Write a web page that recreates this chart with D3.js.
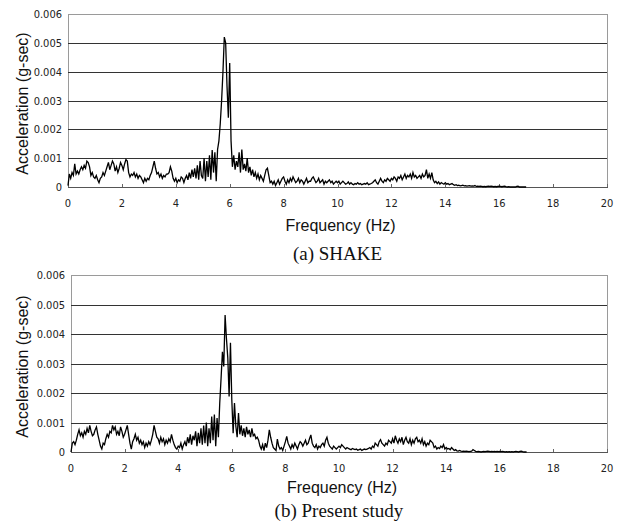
<!DOCTYPE html>
<html lang="en">
<head>
    <meta charset="UTF-8">
    <title>Fourier spectrum - SHAKE vs Present study</title>
    <script src="https://d3js.org/d3.v7.min.js"></script>
    <style>
        body { margin: 0; background: #fff; }
        #chart { display: block; }
        .tick-label { font-family: "Liberation Sans Narrow", "DejaVu Sans Condensed", sans-serif; font-size: 11px; fill: #222; }
        .axis-title { font-family: "Liberation Sans", Arial, sans-serif; font-size: 16px; fill: #111; }
        .caption { font-family: "Liberation Serif", "Times New Roman", serif; font-size: 19px; fill: #111; }
    </style>
</head>
<body>
    <svg id="chart" width="626" height="529"></svg>

    <script>
        // frequency grid of the spectra (Hz)
        const freqStep = 0.05;
        const xTicks = [0, 2, 4, 6, 8, 10, 12, 14, 16, 18, 20];
        const yTicks = [0, 0.001, 0.002, 0.003, 0.004, 0.005, 0.006];

        // amplitudes in units of 0.001 g-sec, one value per 0.05 Hz, 0 .. 17 Hz
        const ampShake = [
            0.05, 0.45, 0.3, 0.5, 0.4, 0.8, 0.45, 0.55, 0.45, 0.6, 0.7, 0.6, 0.75, 0.65, 0.9, 0.85, 0.7, 0.4, 0.5, 0.35,
            0.3, 0.4, 0.25, 0.15, 0.3, 0.35, 0.5, 0.4, 0.55, 0.7, 0.85, 0.6, 0.75, 0.9, 0.8, 0.55, 0.7, 0.5, 0.65, 0.85,
            0.75, 0.6, 0.8, 0.95, 0.9, 0.5, 0.35, 0.45, 0.4, 0.5, 0.35, 0.45, 0.3, 0.4, 0.35, 0.25, 0.15, 0.3, 0.2, 0.3,
            0.25, 0.4, 0.5, 0.7, 0.9, 0.65, 0.45, 0.5, 0.35, 0.45, 0.3, 0.4, 0.35, 0.45, 0.45, 0.5, 0.7, 0.55, 0.3, 0.2,
            0.3, 0.15, 0.25, 0.2, 0.35, 0.3, 0.15, 0.3, 0.4, 0.25, 0.5, 0.3, 0.6, 0.35, 0.65, 0.3, 0.75, 0.25, 0.9, 0.4,
            0.3, 1.0, 0.2, 0.9, 0.35, 1.1, 0.25, 1.28, 0.5, 1.2, 0.2, 1.3, 1.6, 2.2, 3.0, 4.0, 5.2, 5.0, 3.5, 2.4,
            4.3, 1.6, 0.7, 1.1, 0.6, 0.9, 0.7, 1.2, 0.5, 1.3, 0.6, 0.8, 0.55, 1.0, 0.5, 0.7, 0.4, 0.6, 0.35, 0.5,
            0.3, 0.45, 0.25, 0.4, 0.3, 0.2, 0.4, 0.6, 0.65, 0.4, 0.15, 0.2, 0.1, 0.2, 0.05, 0.15, 0.25, 0.1, 0.2, 0.3,
            0.35, 0.2, 0.1, 0.25, 0.15, 0.3, 0.2, 0.35, 0.25, 0.15, 0.2, 0.3, 0.15, 0.25, 0.2, 0.1, 0.2, 0.3, 0.15, 0.2,
            0.2, 0.3, 0.35, 0.25, 0.15, 0.2, 0.3, 0.15, 0.2, 0.25, 0.1, 0.2, 0.15, 0.2, 0.25, 0.15, 0.2, 0.1, 0.15, 0.2,
            0.15, 0.2, 0.1, 0.15, 0.2, 0.15, 0.1, 0.12, 0.18, 0.1, 0.15, 0.1, 0.08, 0.12, 0.1, 0.15, 0.1, 0.12, 0.08, 0.1,
            0.12, 0.1, 0.15, 0.08, 0.1, 0.12, 0.15, 0.2, 0.25, 0.15, 0.1, 0.2, 0.3, 0.2, 0.15, 0.25, 0.2, 0.3, 0.25, 0.2,
            0.3, 0.25, 0.35, 0.3, 0.2, 0.35, 0.3, 0.4, 0.25, 0.35, 0.45, 0.3, 0.4, 0.35, 0.45, 0.3, 0.5, 0.35, 0.4, 0.3,
            0.35, 0.4, 0.3, 0.45, 0.35, 0.4, 0.6, 0.3, 0.45, 0.3, 0.5, 0.25, 0.15, 0.2, 0.12, 0.18, 0.1, 0.15, 0.12, 0.1,
            0.15, 0.1, 0.12, 0.08, 0.1, 0.12, 0.08, 0.06, 0.08, 0.05, 0.06, 0.04, 0.05, 0.06, 0.04, 0.05, 0.03, 0.04, 0.05, 0.03,
            0.04, 0.03, 0.05, 0.02, 0.03, 0.02, 0.03, 0.02, 0.01, 0.02, 0.01, 0.02, 0.03, 0.02, 0.03, 0.02, 0.01, 0.02, 0.01, 0.02,
            0.03, 0.02, 0.01, 0.02, 0.03, 0.01, 0, 0.01, 0, 0, 0, 0, 0, 0.02, 0.03, 0, 0, 0, 0, 0,
            0
        ];

        const ampPresent = [
            0, 0.3, 0.35, 0.25, 0.4, 0.6, 0.75, 0.55, 0.65, 0.5, 0.7, 0.6, 0.8, 0.65, 0.9, 0.7, 0.55, 0.6, 0.75, 0.85,
            0.6, 0.4, 0.2, 0.1, 0.3, 0.25, 0.45, 0.6, 0.5, 0.7, 0.65, 0.9, 0.75, 0.85, 0.6, 0.7, 0.55, 0.85, 0.7, 0.5,
            0.6, 0.75, 0.9, 0.6, 0.3, 0.1, 0.35, 0.45, 0.6, 0.4, 0.5, 0.3, 0.4, 0.25, 0.35, 0.15, 0.3, 0.2, 0.35, 0.25,
            0.4, 0.6, 0.9, 0.7, 0.5, 0.45, 0.3, 0.5, 0.35, 0.45, 0.25, 0.4, 0.3, 0.45, 0.35, 0.6, 0.4, 0.25, 0.15, 0.1,
            0.2, 0.15, 0.3, 0.1, 0.25, 0.35, 0.2, 0.5, 0.3, 0.6, 0.25, 0.55, 0.4, 0.7, 0.2, 0.65, 0.3, 0.8, 0.25, 0.9,
            0.3, 1.0, 0.2, 0.8, 0.3, 1.2, 0.4, 1.27, 0.2, 1.15, 0.5, 1.66, 2.5, 3.4, 2.9, 4.64, 3.85, 3.2, 1.88, 3.7,
            1.77, 0.64, 1.66, 0.88, 0.5, 1.32, 0.6, 0.9, 0.55, 0.8, 0.5, 0.85, 0.6, 0.75, 0.5, 0.8, 0.55, 0.6, 0.45, 0.5,
            0.4, 0.2, 0.1, 0.25, 0.05, 0.3, 0.15, 0.4, 0.75, 0.5, 0.3, 0.15, 0.1, 0.05, 0.44, 0.2, 0.1, 0.15, 0.05, 0.2,
            0.35, 0.53, 0.3, 0.2, 0.1, 0.25, 0.15, 0.3, 0.2, 0.1, 0.25, 0.35, 0.3, 0.2, 0.3, 0.4, 0.25, 0.3, 0.45, 0.58,
            0.3, 0.2, 0.15, 0.25, 0.1, 0.2, 0.15, 0.25, 0.3, 0.2, 0.4, 0.5, 0.3, 0.2, 0.15, 0.1, 0.2, 0.15, 0.1, 0.15,
            0.2, 0.15, 0.25, 0.2, 0.15, 0.1, 0.15, 0.12, 0.1, 0.08, 0.12, 0.1, 0.08, 0.1, 0.06, 0.08, 0.1, 0.05, 0.08, 0.1,
            0.08, 0.1, 0.12, 0.15, 0.1, 0.2, 0.15, 0.3, 0.25, 0.2, 0.35, 0.42, 0.3, 0.25, 0.2, 0.3, 0.25, 0.4, 0.35, 0.3,
            0.45, 0.3, 0.55, 0.4, 0.3, 0.45, 0.35, 0.5, 0.25, 0.4, 0.5, 0.35, 0.3, 0.45, 0.25, 0.4, 0.3, 0.45, 0.5, 0.35,
            0.4, 0.3, 0.45, 0.25, 0.35, 0.2, 0.3, 0.25, 0.4, 0.35, 0.3, 0.15, 0.2, 0.1, 0.15, 0.12, 0.2, 0.15, 0.25, 0.1,
            0.15, 0.1, 0.12, 0.08, 0.15, 0.1, 0.05, 0.08, 0.04, 0.03, 0.05, 0.03, 0.02, 0.03, 0.02, 0.03, 0.02, 0.01, 0.02, 0.03,
            0.08, 0.05, 0.02, 0.01, 0.02, 0.01, 0, 0.01, 0.02, 0.01, 0.02, 0.03, 0.02, 0.01, 0.02, 0.01, 0.02, 0.01, 0.02, 0.01,
            0.02, 0.01, 0.02, 0.01, 0, 0.01, 0, 0.01, 0, 0.01, 0, 0.01, 0.02, 0.01, 0, 0.02, 0.03, 0.01, 0, 0,
            0
        ];

        const svg = d3.select("#chart");

        // one panel = frame, grid, axes, spectrum line, titles
        function drawPanel(amps, box, caption) {
            const x = d3.scaleLinear().domain([0, 20]).range([box.left, box.right]);
            const y = d3.scaleLinear().domain([0, 0.006]).range([box.bottom, box.top]);
            const g = svg.append("g");

            // plot frame
            g.append("rect")
                .attr("x", box.left + 0.5)
                .attr("y", box.top + 0.5)
                .attr("width", box.right - box.left)
                .attr("height", box.bottom - box.top)
                .attr("fill", "none")
                .attr("stroke", "#9a9a9a")
                .attr("stroke-width", 1);

            // horizontal grid
            g.selectAll("line.grid")
                .data(yTicks.filter(t => t > 0 && t < 0.006))
                .enter().append("line")
                .attr("class", "grid")
                .attr("x1", box.left)
                .attr("x2", box.right)
                .attr("y1", d => Math.round(y(d)) + 0.5)
                .attr("y2", d => Math.round(y(d)) + 0.5)
                .attr("stroke", "#333")
                .attr("stroke-width", 1);

            // bottom axis line + small ticks
            g.append("line")
                .attr("x1", box.left).attr("x2", box.right + 1)
                .attr("y1", box.bottom + 0.5).attr("y2", box.bottom + 0.5)
                .attr("stroke", "#555");
            g.selectAll("line.xtick")
                .data(xTicks)
                .enter().append("line")
                .attr("class", "xtick")
                .attr("x1", d => Math.round(x(d)) + 0.5)
                .attr("x2", d => Math.round(x(d)) + 0.5)
                .attr("y1", box.bottom)
                .attr("y2", box.bottom - 3)
                .attr("stroke", "#666");

            // tick labels
            g.selectAll("text.xl")
                .data(xTicks)
                .enter().append("text")
                .attr("class", "tick-label")
                .attr("x", d => x(d))
                .attr("y", box.bottom + 20)
                .attr("text-anchor", "middle")
                .text(d => d);

            g.selectAll("text.yl")
                .data(yTicks)
                .enter().append("text")
                .attr("class", "tick-label")
                .attr("x", box.left - 6)
                .attr("y", d => y(d) + 4)
                .attr("text-anchor", "end")
                .text(d => d === 0 ? "0" : d3.format(".3f")(d));

            // spectrum
            const pts = amps.map((a, i) => [i * freqStep, a * 0.001]);
            g.append("path")
                .datum(pts)
                .attr("d", d3.line().x(d => x(d[0])).y(d => y(d[1])))
                .attr("fill", "none")
                .attr("stroke", "#000")
                .attr("stroke-width", 1.3)
                .attr("stroke-linejoin", "miter");

            // axis titles
            g.append("text")
                .attr("class", "axis-title")
                .attr("transform", `translate(28,${(box.top + box.bottom) / 2 + 3}) rotate(-90)`)
                .attr("text-anchor", "middle")
                .text("Acceleration (g-sec)");

            g.append("text")
                .attr("class", "axis-title")
                .attr("x", (box.left + box.right) / 2 + 3)
                .attr("y", box.titleY)
                .attr("text-anchor", "middle")
                .text("Frequency (Hz)");

            g.append("text")
                .attr("class", "caption")
                .attr("x", (box.left + box.right) / 2)
                .attr("y", box.captionY)
                .attr("text-anchor", "middle")
                .text(caption);
        }

        drawPanel(ampShake, { left: 68, right: 607, top: 14, bottom: 187, titleY: 231, captionY: 260 }, "(a) SHAKE");
        drawPanel(ampPresent, { left: 71, right: 607, top: 275, bottom: 452, titleY: 493, captionY: 517 }, "(b) Present study");
    </script>
</body>
</html>
